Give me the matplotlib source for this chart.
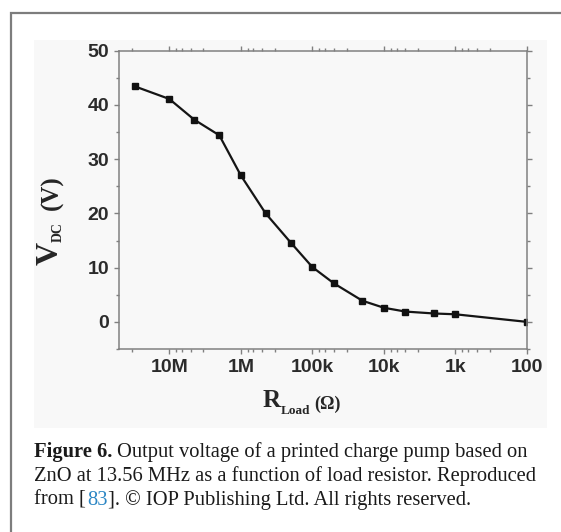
import matplotlib
matplotlib.use("Agg")
import matplotlib.pyplot as plt
from matplotlib.ticker import FixedLocator, NullFormatter, FixedFormatter
from matplotlib.transforms import IdentityTransform
from matplotlib.patches import Rectangle

# data
R_load = [3e7, 1e7, 4.5e6, 2e6, 1e6, 4.5e5, 2e5, 1e5, 5e4, 2e4, 1e4, 5e3, 2e3, 1e3, 1e2]
V_dc = [43.4, 41.1, 37.3, 34.4, 27.0, 20.0, 14.6, 10.1, 7.1, 3.9, 2.6, 1.9, 1.55, 1.4, 0.0]

x_ticks = [1e7, 1e6, 1e5, 1e4, 1e3, 1e2]
x_tick_labels = ["10M", "1M", "100k", "10k", "1k", "100"]
minor_mult = [10 / 3, 5, 20 / 3, 8]
y_ticks = [0, 10, 20, 30, 40, 50]
y_minor = [-5, 5, 15, 25, 35, 45]

W, H = 561, 532
fig = plt.figure(figsize=(W / 100, H / 100), dpi=100)
fig.patch.set_facecolor("white")

# card border (left and top only visible) and faint figure background
fig.add_artist(Rectangle((10.5 / W, -0.1), 2.0, 1.1 - 12.5 / H, transform=fig.transFigure,
                         fill=False, edgecolor="#7d7d7d", linewidth=1.6, zorder=-2))
fig.add_artist(Rectangle((34 / W, 1 - 428 / H), (547 - 34) / W, (428 - 40) / H,
                         transform=fig.transFigure, facecolor="#f8f8f8", edgecolor="none",
                         zorder=-1))

ax = fig.add_axes([119.3 / W, 1 - 349 / H, (527 - 119.3) / W, (349 - 50.7) / H])
ax.set_facecolor("none")

ax.plot(R_load, V_dc, color="#151515", linewidth=1.6, marker="s", markersize=4.3,
        markerfacecolor="#111111", markeredgecolor="#111111")

ax.set_xscale("log")
ax.set_xlim(5e7, 100)
ax.set_ylim(-5, 50)

minors = [m * 10 ** k for k in range(2, 8) for m in minor_mult if m * 10 ** k < 5e7]
ax.xaxis.set_major_locator(FixedLocator(x_ticks))
ax.xaxis.set_major_formatter(FixedFormatter(x_tick_labels))
ax.xaxis.set_minor_locator(FixedLocator(minors))
ax.xaxis.set_minor_formatter(NullFormatter())
ax.yaxis.set_major_locator(FixedLocator(y_ticks))
ax.yaxis.set_minor_locator(FixedLocator(y_minor))

for sp in ax.spines.values():
    sp.set_color("#808080")
    sp.set_linewidth(1.1)

ax.tick_params(which="both", direction="out", color="#808080", width=1.0,
               top=True, right=True, labeltop=False, labelright=False)
ax.tick_params(which="major", length=3.3, pad=4.0)
ax.tick_params(which="minor", length=2.2)
for lab in ax.get_xticklabels() + ax.get_yticklabels():
    lab.set_family("Liberation Sans")
    lab.set_fontweight("bold")
    lab.set_fontsize(14)
    lab.set_color("#2b2b2b")

renderer = fig.canvas.get_renderer()


def put_runs(x, y, parts, vertical=False):
    # draw text pieces one after the other; y measured from the top in pixels
    for s, size, weight, color, drop, fam, gap in parts:
        if vertical:
            y -= gap
            t = fig.text(x + drop, H - y, s, transform=IdentityTransform(), fontsize=size,
                         fontweight=weight, color=color, family=fam, rotation=90,
                         rotation_mode="anchor", ha="left", va="baseline")
            y -= t.get_window_extent(renderer).height
        else:
            x += gap
            t = fig.text(x, H - y - drop, s, transform=IdentityTransform(), fontsize=size,
                         fontweight=weight, color=color, family=fam,
                         ha="left", va="baseline")
            x += t.get_window_extent(renderer).width
    return x, y


serif = "Liberation Serif"
lab_col = "#262626"

# axis titles
put_runs(263, 407, [("R", 18, "bold", lab_col, 0, serif, 0),
                    ("Load", 9.5, "bold", lab_col, 7, serif, 0),
                    ("(Ω)", 13, "bold", lab_col, 2, serif, 4)])

put_runs(58, 265, [("V", 23, "bold", lab_col, 0, serif, 0),
                   ("DC", 10, "bold", lab_col, 3.5, serif, 0),
                   ("(V)", 18, "bold", lab_col, 0, serif, 12)], vertical=True)

# caption
cap = 14.8
ink = "#1a1a1a"
put_runs(34.5, 457, [("Figure 6.", cap, "bold", ink, 0, serif, 0),
                     ("Output voltage of a printed charge pump based on", cap, "normal", ink, 0, serif, 4)])
put_runs(34.5, 481, [("ZnO at 13.56 MHz as a function of load resistor. Reproduced", cap, "normal", ink, 0, serif, 0)])
put_runs(34.5, 505, [("from [", cap, "normal", ink, 0, serif, 0),
                     ("83", cap, "normal", "#2b86c4", 0, serif, 0.5),
                     ("]. © IOP Publishing Ltd. All rights reserved.", cap, "normal", ink, 0, serif, 0.5)])

fig.savefig("out.png", dpi=100)
